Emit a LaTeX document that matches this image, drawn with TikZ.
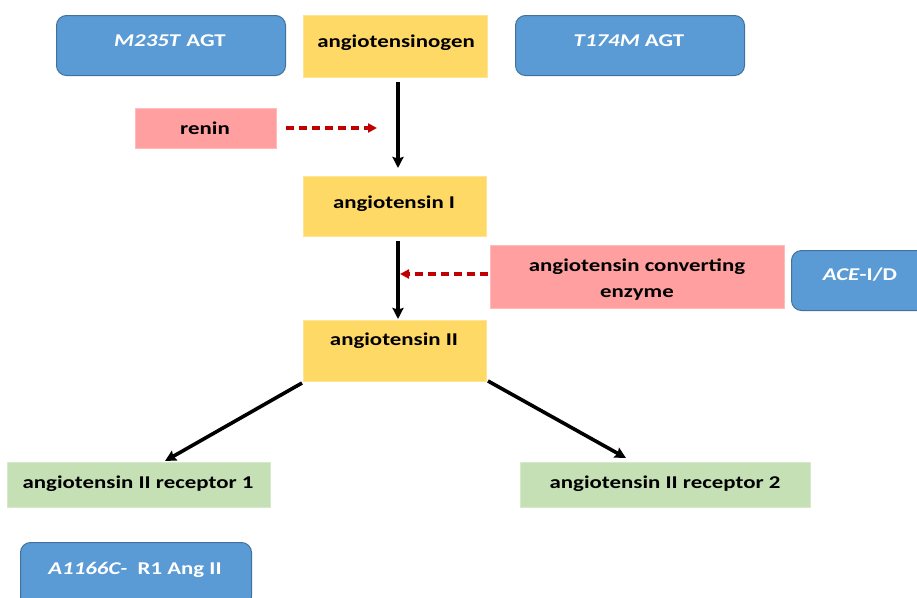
\documentclass[tikz,border=0pt]{standalone}
\usepackage{fontspec}
\setmainfont{Carlito}[FakeStretch=1.27]
\usetikzlibrary{arrows.meta}
\definecolor{bluefill}{HTML}{5B9BD5}
\definecolor{blueline}{HTML}{41719C}
\definecolor{yellowfill}{HTML}{FFD966}
\definecolor{pinkfill}{HTML}{FF9F9F}
\definecolor{greenfill}{HTML}{C5E0B4}
\definecolor{darkred}{HTML}{C00000}
\tikzset{
  boxbase/.style={rectangle, inner sep=0pt, anchor=north west},
  bluebox/.style={boxbase, fill=bluefill, draw=blueline, line width=1pt, rounded corners=10pt},
  yellowbox/.style={boxbase, fill=yellowfill, draw=yellowfill!70!white, line width=0.8pt},
  pinkbox/.style={boxbase, fill=pinkfill, draw=pinkfill!70!white, line width=0.8pt},
  greenbox/.style={boxbase, fill=greenfill, draw=greenfill!70!white, line width=0.8pt},
  lbl/.style={anchor=base, inner sep=0pt, font=\fontsize{18}{22}\selectfont\bfseries, text=black},
  wlbl/.style={lbl, text=white},
  flow/.style={-{Stealth[length=11pt,width=11pt,inset=1.5pt]}, line width=3.6pt, black},
  enz/.style={-{Triangle[length=9pt,width=9pt]}, line width=3.4pt, darkred, dash pattern=on 8pt off 5pt},
}
\begin{document}
\begin{tikzpicture}[x=1pt,y=-1pt]
\useasboundingbox (0,0) rectangle (917,597);
% boxes
\node[bluebox, minimum width=229pt, minimum height=60pt] (m235) at (56,15) {};
\node[yellowbox, minimum width=184pt, minimum height=62pt] (agn) at (303,15) {};
\node[bluebox, minimum width=229pt, minimum height=60pt] (t174) at (515,15) {};
\node[pinkbox, minimum width=141pt, minimum height=40pt] (renin) at (135,108) {};
\node[yellowbox, minimum width=183pt, minimum height=60pt] (ang1) at (303,176) {};
\node[pinkbox, minimum width=294pt, minimum height=63pt] (ace) at (490,245) {};
\node[bluebox, minimum width=150pt, minimum height=60pt] (acei) at (791,250) {};
\node[yellowbox, minimum width=183pt, minimum height=61pt] (ang2) at (303,320) {};
\node[greenbox, minimum width=263pt, minimum height=45pt] (r1) at (7,462) {};
\node[greenbox, minimum width=290pt, minimum height=45pt] (r2) at (520,462) {};
\node[bluebox, minimum width=231pt, minimum height=64pt] (a1166) at (20,542) {};
% labels
\node[wlbl] (m235t) at (170,46) {\textit{M235T} AGT};
\node[lbl] (agnt) at (396,47) {angiotensinogen};
\node[wlbl] (t174t) at (629,46) {\textit{T174M} AGT};
\node[lbl] (renint) at (205,134) {renin};
\node[lbl] (ang1t) at (394,208) {angiotensin I};
\node[lbl] (acet1) at (637,271) {angiotensin converting};
\node[lbl] (acet2) at (637,297) {enzyme};
\node[wlbl] (aceit) at (860,280) {\textit{ACE}-I/D};
\node[lbl] (ang2t) at (394,345) {angiotensin II};
\node[lbl] (r1t) at (138,488) {angiotensin II receptor 1};
\node[lbl] (r2t) at (665,488) {angiotensin II receptor 2};
\node[wlbl] (a1166t) at (135,574) {\textit{A1166C-}\ \ R1 Ang II};
% connectors
\coordinate (a0) at (398,82);
\coordinate (a1) at (398,168);
\coordinate (b0) at (398,241);
\coordinate (b1) at (398,319);
\draw[flow] (a0) -- (a1);
\draw[flow] (b0) -- (b1);
\coordinate (rs) at (286,128);
\coordinate (re) at (377,128);
\draw[enz] (rs) -- (re);
\coordinate (es) at (488,274);
\coordinate (ee) at (400,274);
\draw[enz] (es) -- (ee);
\coordinate (c0) at (302,383);
\coordinate (c1) at (165,461);
\coordinate (d0) at (488,381);
\coordinate (d1) at (626,458);
\draw[flow] (c0) -- (c1);
\draw[flow] (d0) -- (d1);
\end{tikzpicture}
\end{document}
